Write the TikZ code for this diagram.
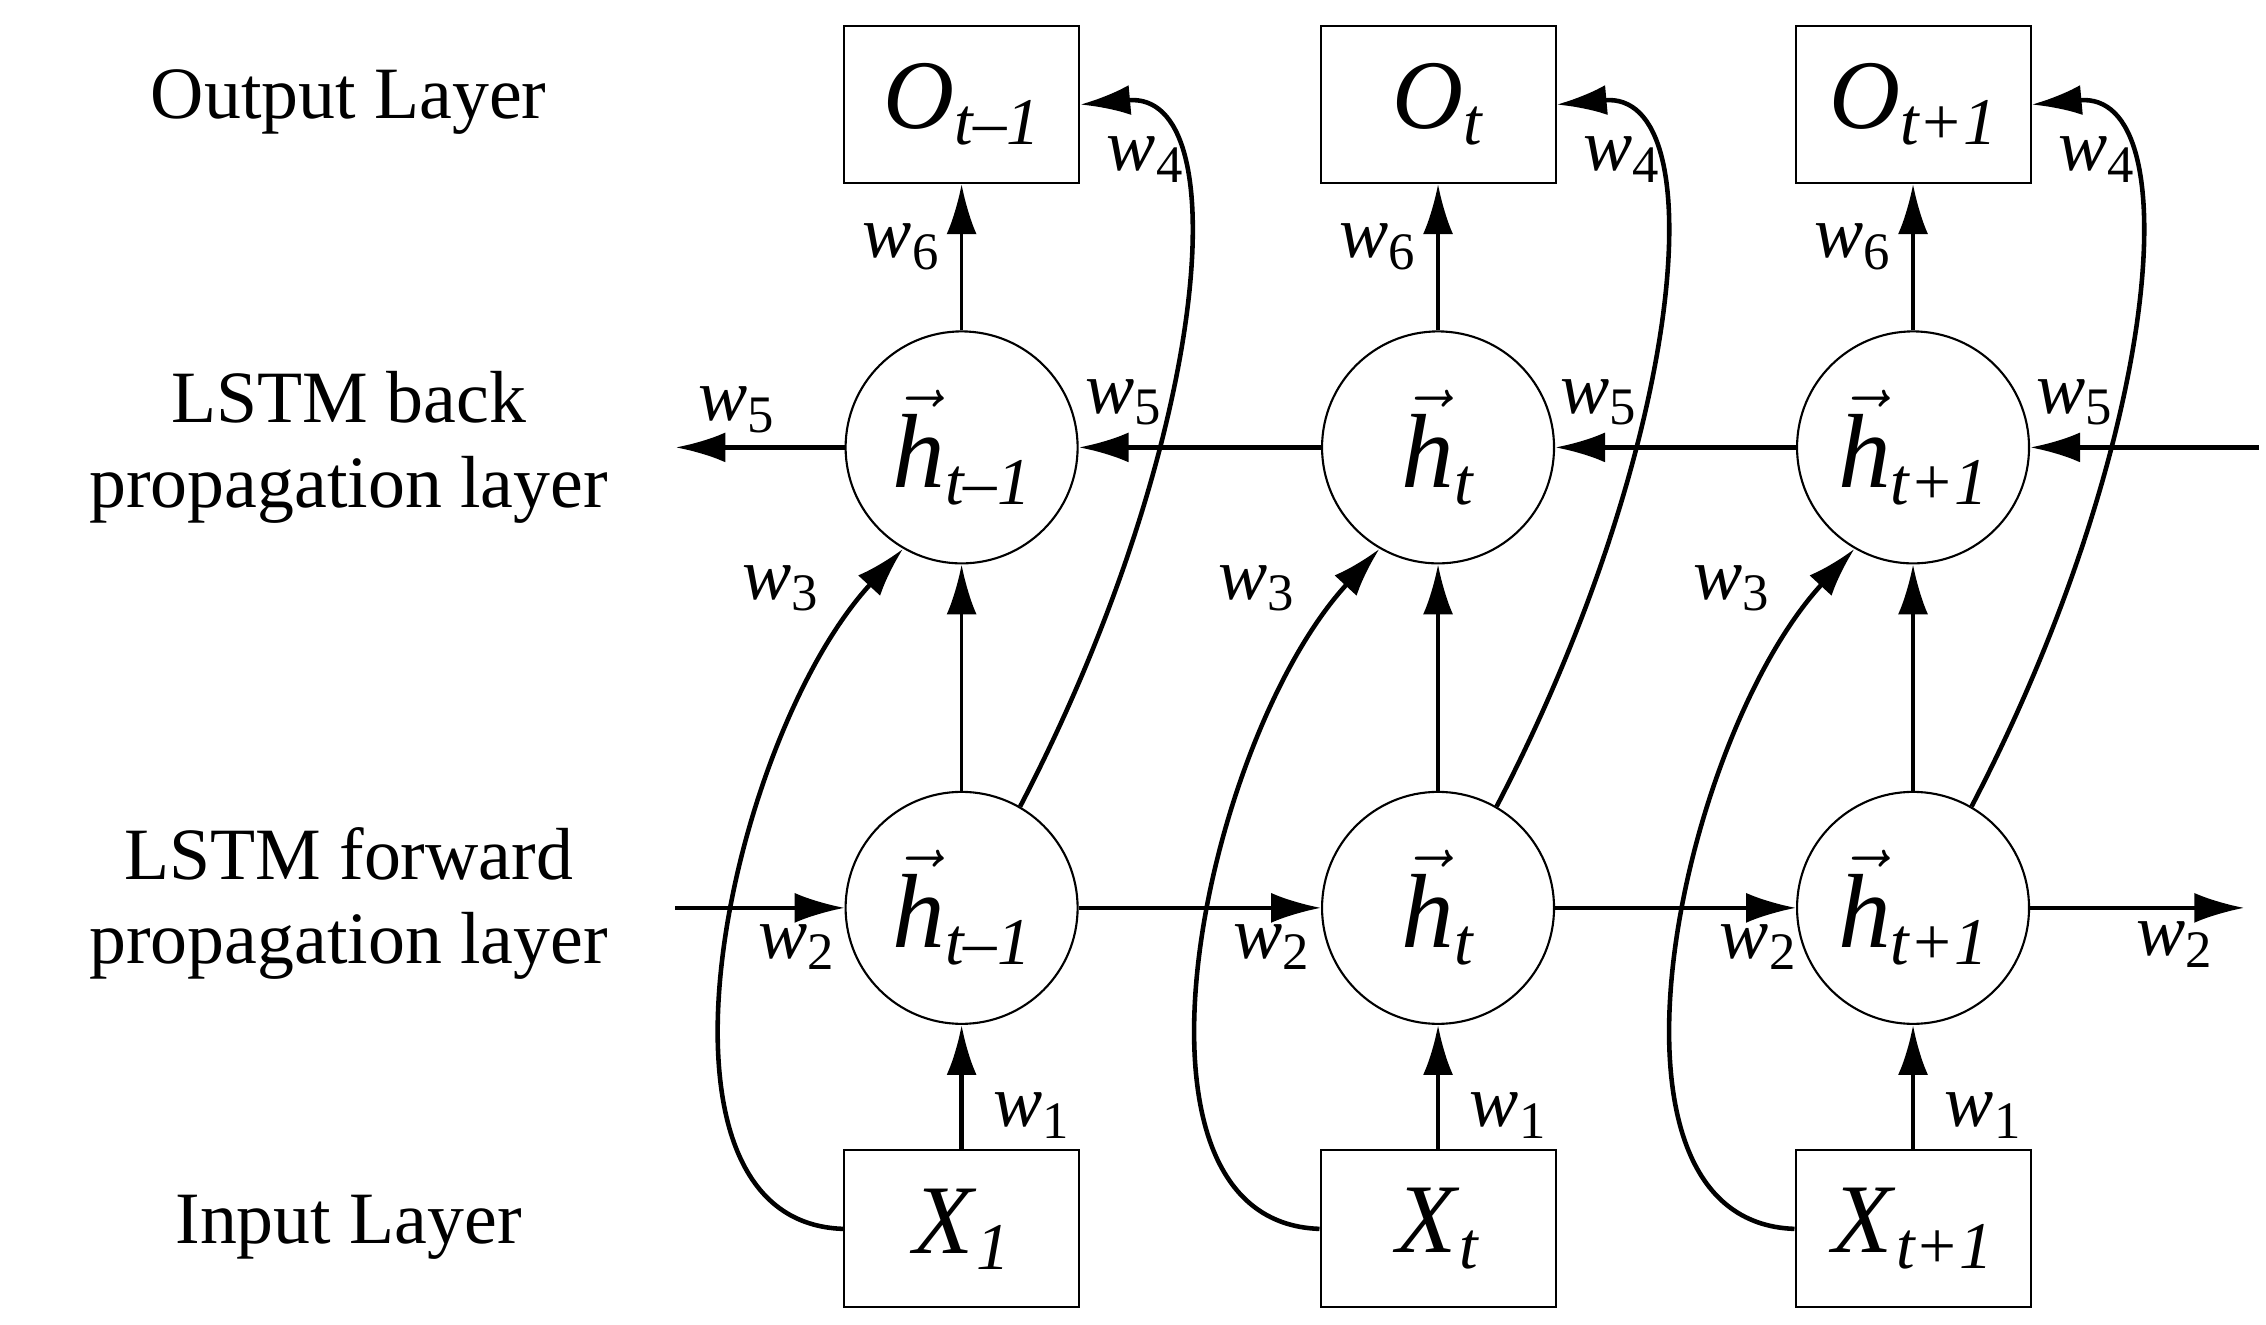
\documentclass[tikz,border=0pt]{standalone}
\usepackage{fontspec}
\setmainfont{Liberation Serif}
\usetikzlibrary{arrows.meta}
\newcommand\lsub[1]{\raisebox{-0.35ex}{\fontsize{19}{20}\selectfont\textit{#1}}}
\newcommand\wsub[1]{\raisebox{-0.35ex}{\fontsize{15}{16}\selectfont #1}}
\newcommand\ww[1]{\textit{w}\wsub{#1}}
\newcommand\hh{$\vec{\mbox{\textit{h}}}$}
\begin{document}
\begin{tikzpicture}[x=0.014526cm,y=-0.014526cm,
 box/.style={draw,line width=0.6pt,minimum width=2.35cm,minimum height=1.57cm,inner sep=0pt,font=\fontsize{28}{30}\selectfont},
 cell/.style={draw,circle,line width=0.6pt,minimum size=2.32cm,inner sep=0pt,font=\fontsize{30}{32}\selectfont},
 lay/.style={font=\fontsize{21}{24}\selectfont,align=center},
 wl/.style={font=\fontsize{21}{23}\selectfont},
 ar/.style={line width=1.3pt,-{Latex[length=5mm,width=3mm]}},
 ar2/.style={line width=1pt,-{Latex[length=5mm,width=3mm]}}]
\useasboundingbox (0,0) rectangle (1560,911.5);
\node[lay] (L1) at (240,70) {Output Layer};
\node[lay] (L2) at (240,308) {LSTM back\\propagation layer};
\node[lay] (L3) at (240,622) {LSTM forward\\propagation layer};
\node[lay] (L4) at (240,845) {Input Layer};
\foreach \n/\x/\s in {a/662/{t–1},b/990/t,c/1317/{t+1}}{
 \node[box] (o\n) at (\x,72) {\textit{O}\lsub{\s}};
 \node[cell] (b\n) at (\x,308) {\hh\lsub{\s}};
 \node[cell] (f\n) at (\x,625) {\hh\lsub{\s}};
}
\node[box] (ia) at (662,846) {\textit{X}\lsub{1}};
\node[box] (ib) at (990,846) {\textit{X}\lsub{t}};
\node[box] (ic) at (1317,846) {\textit{X}\lsub{t+1}};
\coordinate (bin) at (1555,308); \coordinate (bout) at (465,308);
\coordinate (fin) at (465,625); \coordinate (fout) at (1545,625);
\draw[ar] (bin) -- (bc); \draw[ar] (bc) -- (bb); \draw[ar] (bb) -- (ba); \draw[ar] (ba) -- (bout);
\draw[ar2] (fin) -- (fa); \draw[ar2] (fa) -- (fb); \draw[ar2] (fb) -- (fc); \draw[ar2] (fc) -- (fout);
\foreach \n in {a,b,c}{
 \draw[ar] (i\n) -- (f\n);
 \draw[ar2] (f\n) -- (b\n);
 \draw[ar2] (b\n) -- (o\n);
 \draw[ar] (i\n.west) .. controls +(-150,-5) and +(-120,130) .. (b\n.240);
 \draw[ar] (f\n.60) .. controls +(130,-250) and +(110,-10) .. (o\n.east);
}
\foreach \x in {0,328,655}{
 \node[wl] at (\x+537,405) {\ww{3}};
 \node[wl] at (\x+788,110) {\ww{4}};
 \node[wl] at (\x+620,170) {\ww{6}};
 \node[wl] at (\x+710,768) {\ww{1}};
}
\node[wl] at (507,282) {\ww{5}};
\node[wl] at (773,277) {\ww{5}};
\node[wl] at (1100,277) {\ww{5}};
\node[wl] at (1428,277) {\ww{5}};
\node[wl] at (548,652) {\ww{2}};
\node[wl] at (875,652) {\ww{2}};
\node[wl] at (1210,652) {\ww{2}};
\node[wl] at (1497,650) {\ww{2}};
\end{tikzpicture}
\end{document}
